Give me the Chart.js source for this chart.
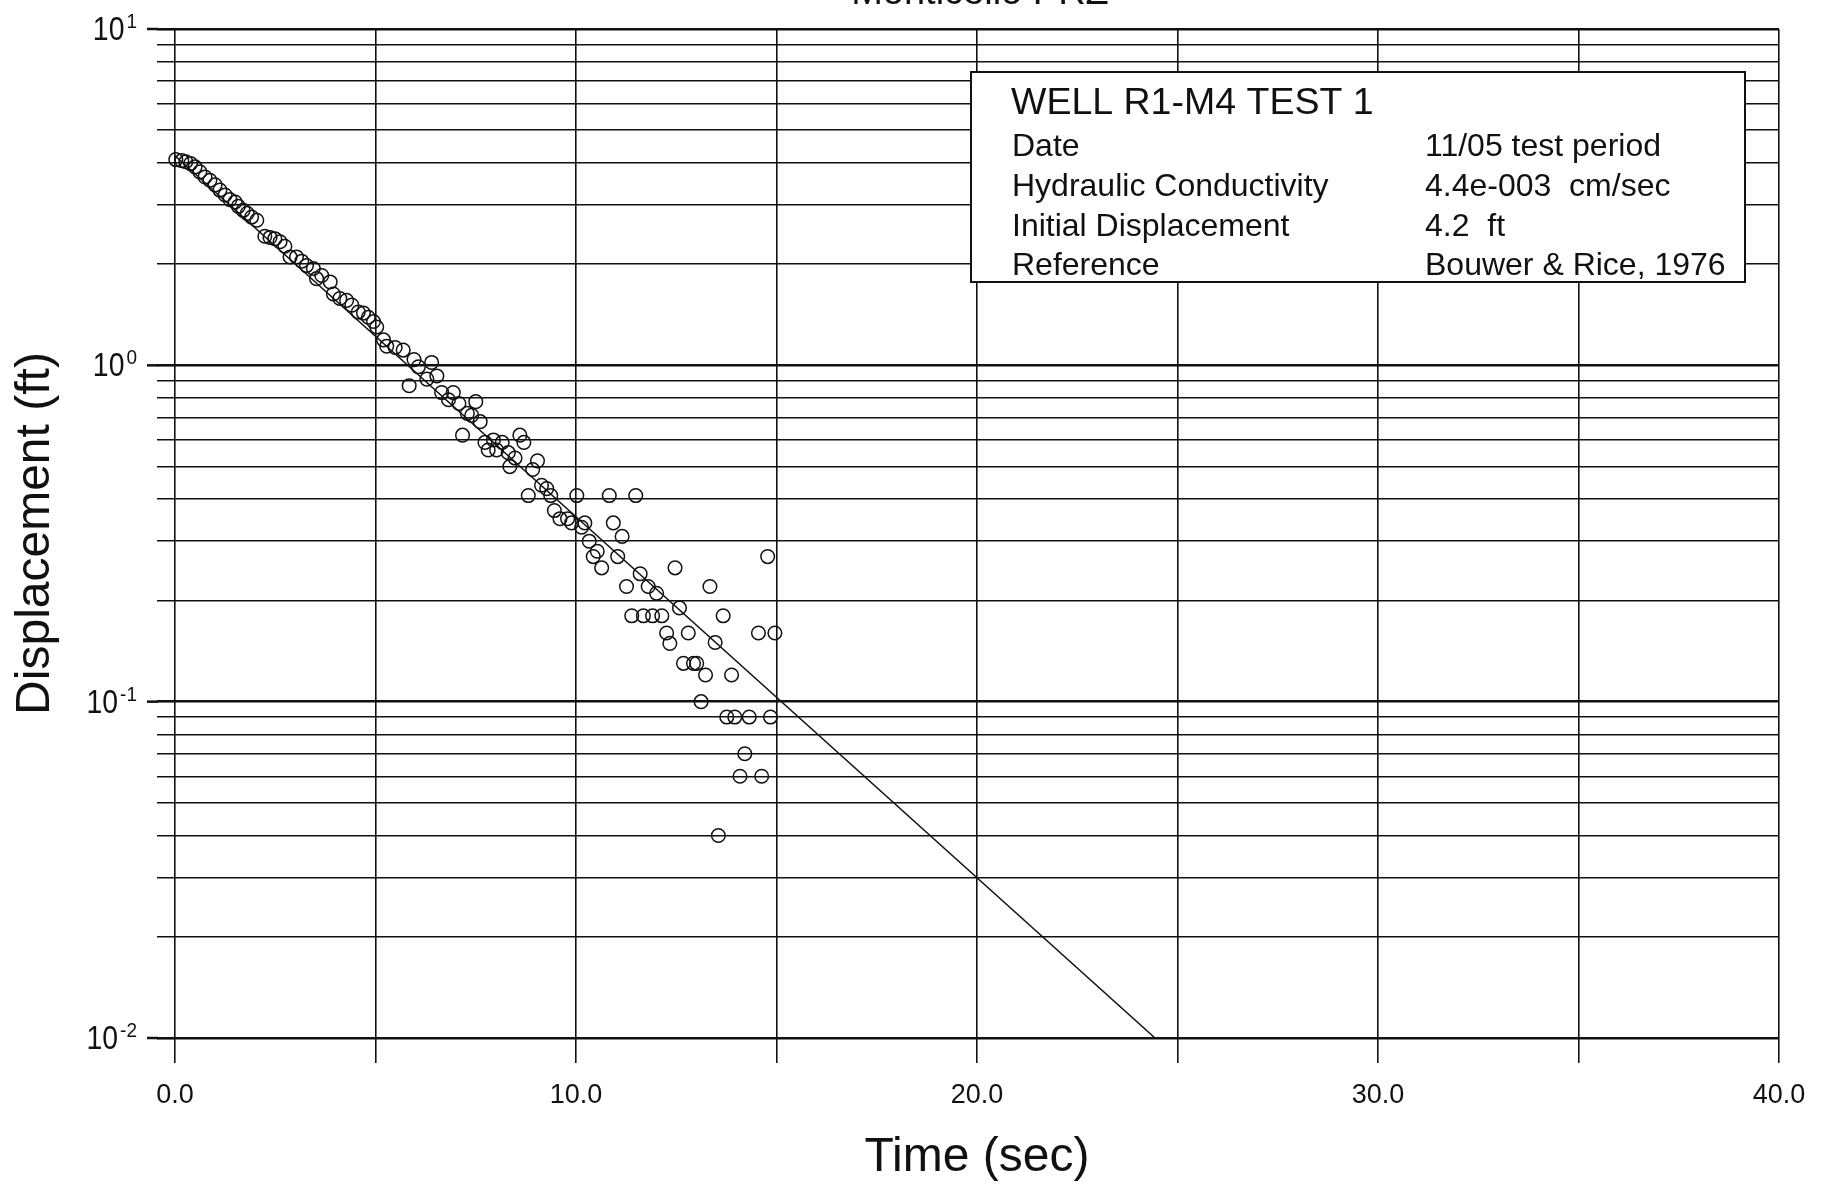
<!DOCTYPE html>
<html>
<head>
<meta charset="utf-8">
<script src="https://cdn.jsdelivr.net/npm/chart.js@4/dist/chart.umd.min.js"></script>
<style>
  html, body { margin: 0; padding: 0; background: #fff; }
  canvas { display: block; }
</style>
</head>
<body>
<canvas id="chart" width="1834" height="1187"></canvas>
<script>
// Slug test record: water-level displacement against elapsed time
const pageTitle = 'Monticello PRZ';

const timeSec = [
  0.02, 0.17, 0.27, 0.39, 0.50, 0.62, 0.75, 0.87, 1.00, 1.12,
  1.25, 1.37, 1.50, 1.58, 1.70, 1.80, 1.91, 2.04, 2.24, 2.37,
  2.49, 2.62, 2.74, 2.87, 3.03, 3.16, 3.28, 3.45, 3.53, 3.66,
  3.87, 3.95, 4.11, 4.28, 4.41, 4.57, 4.70, 4.82, 4.95, 5.03,
  5.20, 5.28, 5.49, 5.69, 5.84, 5.96, 6.07, 6.28, 6.40, 6.53,
  6.65, 6.82, 6.94, 7.08, 7.17, 7.29, 7.40, 7.50, 7.61, 7.73,
  7.81, 7.94, 8.02, 8.16, 8.31, 8.35, 8.48, 8.60, 8.70, 8.81,
  8.92, 9.04, 9.14, 9.27, 9.37, 9.46, 9.60, 9.79, 9.89, 10.02,
  10.14, 10.22, 10.33, 10.43, 10.53, 10.64, 10.83, 10.93, 11.04, 11.15,
  11.26, 11.39, 11.49, 11.60, 11.68, 11.80, 11.91, 12.01, 12.14, 12.26,
  12.34, 12.47, 12.58, 12.68, 12.80, 12.93, 13.01, 13.12, 13.23, 13.34,
  13.47, 13.55, 13.67, 13.76, 13.88, 13.96, 14.09, 14.21, 14.32, 14.55,
  14.63, 14.78, 14.85, 14.96
];

const displacementFt = [
  4.09, 4.06, 4.03, 3.98, 3.89, 3.76, 3.63, 3.55, 3.44, 3.32,
  3.21, 3.11, 3.06, 2.97, 2.89, 2.83, 2.76, 2.70, 2.42, 2.40,
  2.38, 2.33, 2.26, 2.10, 2.10, 2.04, 1.98, 1.94, 1.81, 1.85,
  1.77, 1.63, 1.58, 1.56, 1.51, 1.44, 1.43, 1.39, 1.35, 1.30,
  1.19, 1.14, 1.13, 1.11, 0.87, 1.04, 0.99, 0.91, 1.02, 0.93,
  0.83, 0.79, 0.83, 0.77, 0.62, 0.72, 0.71, 0.78, 0.68, 0.59,
  0.56, 0.60, 0.56, 0.59, 0.55, 0.50, 0.53, 0.62, 0.59, 0.41,
  0.49, 0.52, 0.44, 0.43, 0.41, 0.37, 0.35, 0.35, 0.34, 0.41,
  0.33, 0.34, 0.30, 0.27, 0.28, 0.25, 0.41, 0.34, 0.27, 0.31,
  0.22, 0.18, 0.41, 0.24, 0.18, 0.22, 0.18, 0.21, 0.18, 0.16,
  0.149, 0.25, 0.19, 0.13, 0.16, 0.13, 0.13, 0.10, 0.12, 0.22,
  0.15, 0.04, 0.18, 0.09, 0.12, 0.09, 0.06, 0.07, 0.09, 0.16,
  0.06, 0.27, 0.09, 0.16
];

// Bouwer & Rice straight-line fit, starting at the initial displacement
const fitTime = [0, 24.44];
const fitDisplacement = [4.2, 0.01];

// Axis ranges and grid
const xMin = 0, xMax = 40, xStep = 5, xLabelEvery = 10;
const decadeExponents = [1, 0, -1, -2];
const yGridValues = [];
for (let e = -2; e <= 0; e++) {
  for (let m = 1; m <= 9; m++) yGridValues.push(+(m * Math.pow(10, e)).toPrecision(3));
}
yGridValues.push(10);

// Info box text
const infoTitle = 'WELL R1-M4 TEST 1';
const infoLabels = ['Date', 'Hydraulic Conductivity', 'Initial Displacement', 'Reference'];
const infoValues = ['11/05 test period', '4.4e-003  cm/sec', '4.2  ft', 'Bouwer & Rice, 1976'];

const FONT = "'Liberation Sans', Arial, Helvetica, sans-serif";
const INK = '#111';

const isDecade = v => Math.abs(Math.log10(v) - Math.round(Math.log10(v))) < 1e-9;

// right-aligned text squeezed horizontally by factor k
function narrowText(ctx, text, xRight, y, k) {
  ctx.save();
  ctx.translate(xRight, y);
  ctx.scale(k, 1);
  ctx.textAlign = 'right';
  ctx.fillText(text, 0, 0);
  ctx.restore();
  return ctx.measureText(text).width * k;
}

const decoration = {
  id: 'decoration',
  afterDraw(chart) {
    const ctx = chart.ctx;
    const ys = chart.scales.y;
    const left = chart.chartArea.left;
    ctx.save();

    // longer tick marks on the decade lines
    ctx.strokeStyle = INK;
    ctx.lineWidth = 2.5;
    decadeExponents.forEach(e => {
      const y = ys.getPixelForValue(Math.pow(10, e));
      ctx.beginPath();
      ctx.moveTo(left - 28, y);
      ctx.lineTo(left - 17, y);
      ctx.stroke();
    });

    // decade labels written as powers of ten
    ctx.fillStyle = INK;
    ctx.textBaseline = 'alphabetic';
    decadeExponents.forEach(e => {
      const y = ys.getPixelForValue(Math.pow(10, e));
      const xr = left - 38;
      ctx.font = '20px ' + FONT;
      const w = narrowText(ctx, String(e), xr, y - 1, 0.95);
      ctx.font = '33px ' + FONT;
      narrowText(ctx, '10', xr - w - 2, y + 11, 0.86);
    });

    // page title, running off the top edge
    ctx.textAlign = 'center';
    ctx.font = '38px ' + FONT;
    ctx.fillText(pageTitle, 980, 4);

    // info box
    const bx = 971, by = 72, bw = 774, bh = 210;
    ctx.fillStyle = '#fff';
    ctx.fillRect(bx, by, bw, bh);
    ctx.strokeStyle = INK;
    ctx.lineWidth = 2;
    ctx.strokeRect(bx, by, bw, bh);
    ctx.fillStyle = INK;
    ctx.textAlign = 'left';
    ctx.textBaseline = 'middle';
    ctx.font = '37.5px ' + FONT;
    ctx.fillText(infoTitle, 1011, 104);
    ctx.font = '32px ' + FONT;
    const rowY = [147, 187, 227, 266];
    infoLabels.forEach((t, i) => ctx.fillText(t, 1012, rowY[i]));
    infoValues.forEach((t, i) => ctx.fillText(t, 1425, rowY[i]));
    ctx.restore();
  }
};

new Chart(document.getElementById('chart'), {
  type: 'scatter',
  data: {
    datasets: [
      {
        label: 'Observed',
        data: timeSec.map((t, i) => ({ x: t, y: displacementFt[i] })),
        showLine: false,
        pointStyle: 'circle',
        pointRadius: 6.8,
        pointHoverRadius: 6.8,
        pointBorderWidth: 1.5,
        borderColor: INK,
        backgroundColor: 'rgba(0,0,0,0)',
        clip: false
      },
      {
        label: 'Fit',
        data: fitTime.map((t, i) => ({ x: t, y: fitDisplacement[i] })),
        showLine: true,
        pointRadius: 0,
        borderWidth: 1.5,
        borderColor: INK,
        backgroundColor: INK
      }
    ]
  },
  options: {
    responsive: false,
    animation: false,
    devicePixelRatio: 1,
    layout: { padding: { top: 29, right: 55, left: 0, bottom: 0 } },
    plugins: {
      legend: { display: false },
      tooltip: { enabled: false },
      title: { display: false }
    },
    scales: {
      x: {
        type: 'linear',
        min: xMin,
        max: xMax,
        border: { display: false },
        grid: {
          color: INK,
          lineWidth: 1.6,
          drawTicks: true,
          tickLength: 25,
          tickColor: INK
        },
        ticks: {
          stepSize: xStep,
          autoSkip: false,
          maxRotation: 0,
          padding: 16,
          color: INK,
          font: { family: FONT, size: 27 },
          callback: v => (v % xLabelEvery === 0 ? v.toFixed(1) : '')
        },
        title: {
          display: true,
          text: 'Time (sec)',
          color: INK,
          font: { family: FONT, size: 48 },
          padding: { top: 0, bottom: 0 }
        },
        afterFit: s => { s.height = 149; }
      },
      y: {
        type: 'logarithmic',
        min: 0.01,
        max: 10,
        border: { display: false },
        afterBuildTicks: s => { s.ticks = yGridValues.map(v => ({ value: v, major: isDecade(v) })); },
        grid: {
          color: INK,
          lineWidth: c => (c.tick && isDecade(c.tick.value) ? 2.6 : 1.5),
          drawTicks: true,
          tickLength: 18,
          tickColor: INK
        },
        ticks: { display: false, autoSkip: false },
        title: {
          display: true,
          text: 'Displacement (ft)',
          color: INK,
          font: { family: FONT, size: 48 },
          padding: { top: 7, bottom: 0 }
        },
        afterFit: s => { s.width = 175; }
      }
    }
  },
  plugins: [decoration]
});
</script>
</body>
</html>
